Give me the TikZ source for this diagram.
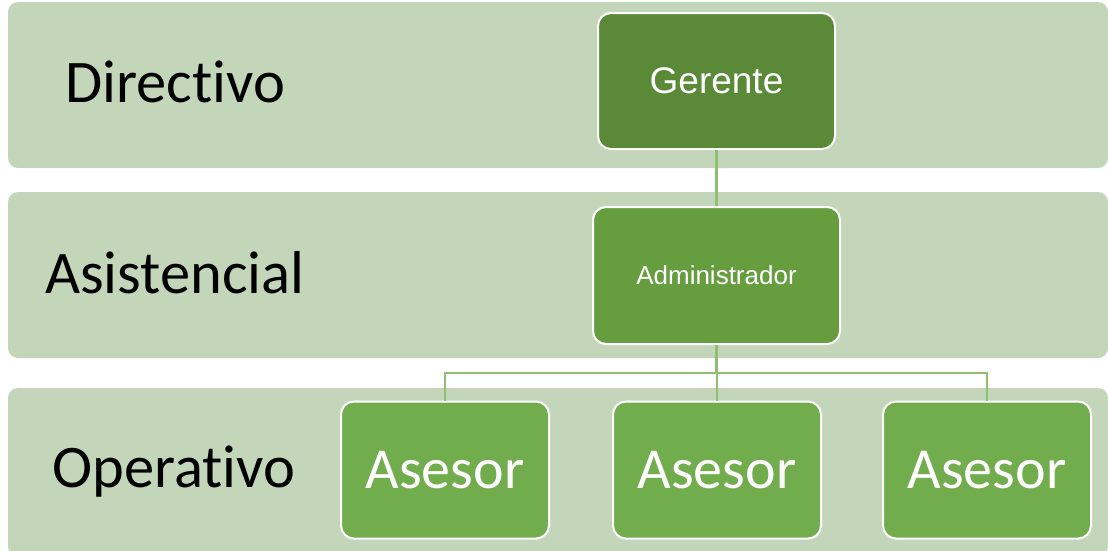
\documentclass[tikz,border=0pt]{standalone}
\usepackage{fontspec}
\setmainfont[Ligatures=NoCommon]{Carlito}
\newfontfamily\arialf{Liberation Sans}
\definecolor{bandc}{HTML}{C3D6BA}
\definecolor{gerc}{HTML}{5A8A37}
\definecolor{admc}{HTML}{669E3F}
\definecolor{asec}{HTML}{71AD4C}
\definecolor{linec}{HTML}{8FBF70}
\tikzset{
  band/.style={fill=bandc, rounded corners=10pt},
  orgbox/.style={draw=white, line width=2pt, rounded corners=13pt, text=white, align=center, inner sep=0pt},
  lvl/.style={anchor=base west, inner sep=0pt, font=\fontsize{60.5}{70}\selectfont},
  conn/.style={draw=linec, line width=2.2pt}
}
\begin{document}
\begin{tikzpicture}[x=1pt,y=-1pt]
\useasboundingbox (0,0) rectangle (1108,550);
\clip (0,0) rectangle (1108,550);
\path[band] (8,2) rectangle (1108,168);
\path[band] (8,192) rectangle (1108,358);
\path[band] (8,388) rectangle (1108,556);
\node[lvl] (l1) at (65,102) {Directivo};
\node[lvl] (l2) at (45,293) {Asistencial};
\node[lvl] (l3) at (52,487) {Operativo};
\coordinate (bus) at (0,373);
\node[orgbox, fill=gerc, minimum width=237pt, minimum height=136pt, font=\arialf\fontsize{37}{44}\selectfont] (ger) at (716.5,81) {Gerente};
\node[orgbox, fill=admc, minimum width=247pt, minimum height=137pt, font=\arialf\fontsize{26}{31}\selectfont] (adm) at (716.5,275.5) {Administrador};
\node[orgbox, fill=asec, minimum width=208pt, minimum height=137pt, font=\fontsize{58}{68}\selectfont] (as1) at (445,470) {Asesor};
\node[orgbox, fill=asec, minimum width=208pt, minimum height=137pt, font=\fontsize{58}{68}\selectfont] (as2) at (717,470) {Asesor};
\node[orgbox, fill=asec, minimum width=208pt, minimum height=137pt, font=\fontsize{58}{68}\selectfont] (as3) at (987,470) {Asesor};
\draw[conn] (ger.south) -- (adm.north);
\draw[conn] (adm.south) -- (adm.south |- bus);
\draw[conn] (as1.north) -- (as1.north |- bus) -- (as3.north |- bus) -- (as3.north);
\draw[conn] (as2.north) -- (as2.north |- bus);
\end{tikzpicture}
\end{document}
